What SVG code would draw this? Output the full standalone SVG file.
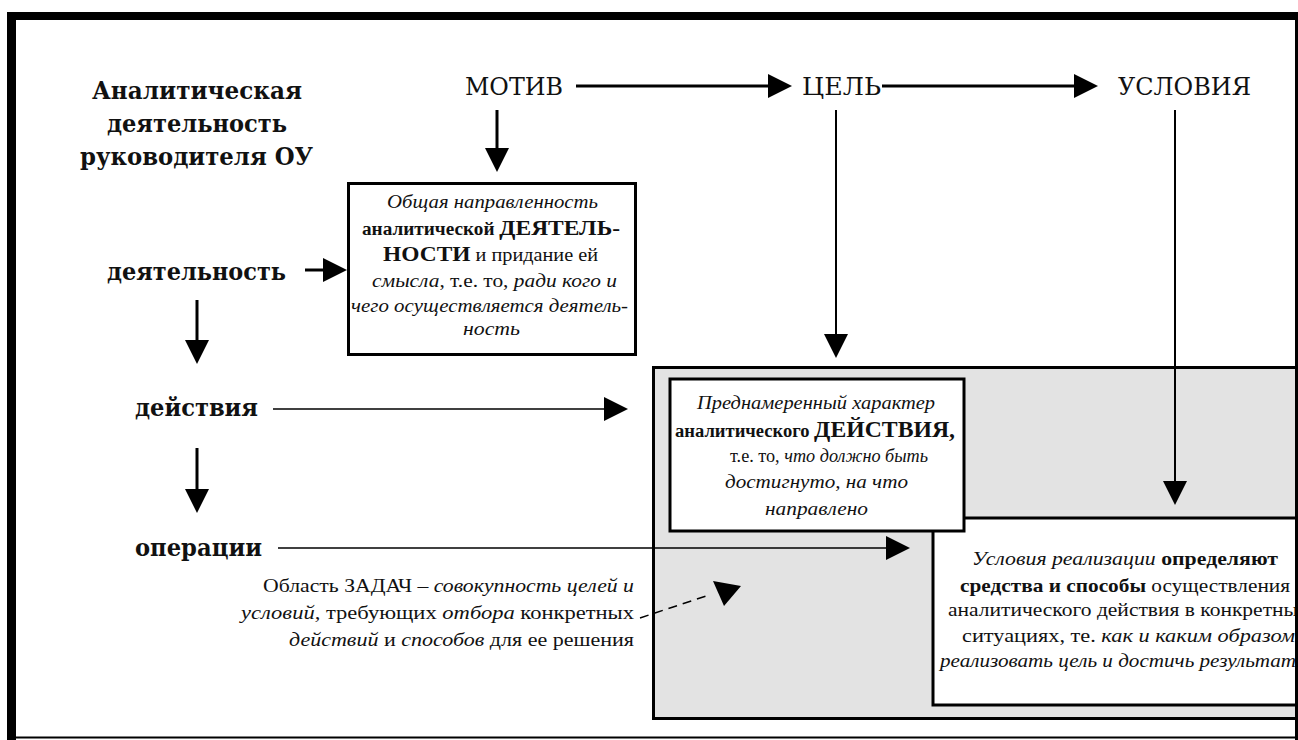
<svg xmlns="http://www.w3.org/2000/svg" width="1298" height="740" viewBox="0 0 1298 740">
<style>
.hd{font-family:"DejaVu Serif","Liberation Serif",serif;font-size:25px;fill:#111}
.hb{font-weight:bold}
.it{font-family:"Liberation Serif",serif;font-style:italic;fill:#111}
.rg{font-family:"Liberation Serif",serif;fill:#111}
.bd{font-family:"Liberation Serif",serif;font-weight:bold;fill:#111}
.box{fill:#fff;stroke:#000;stroke-width:3}
.ln{stroke:#000;fill:none}
</style>
<defs>
<marker id="ah" viewBox="0 0 24 24" refX="12" refY="12" markerWidth="24" markerHeight="24" markerUnits="userSpaceOnUse" orient="auto">
<path d="M0,0 L24,12 L0,24 Z" fill="#000"/>
</marker>
</defs>
<rect width="1298" height="740" fill="#fff"/>

<g id="title">
<text class="hd hb" x="92" y="99" textLength="210" lengthAdjust="spacingAndGlyphs">Аналитическая</text>
<text class="hd hb" x="107" y="132" textLength="180" lengthAdjust="spacingAndGlyphs">деятельность</text>
<text class="hd hb" x="80" y="165" textLength="233" lengthAdjust="spacingAndGlyphs">руководителя ОУ</text>
</g>

<g id="motiv"><text class="hd" x="465" y="95" textLength="98" lengthAdjust="spacingAndGlyphs">МОТИВ</text></g>
<g id="cel"><text class="hd" x="802" y="95" textLength="79" lengthAdjust="spacingAndGlyphs">ЦЕЛЬ</text></g>
<g id="usloviya"><text class="hd" x="1118" y="95" textLength="133" lengthAdjust="spacingAndGlyphs">УСЛОВИЯ</text></g>

<g id="deyatelnost"><text class="hd hb" x="107" y="280" textLength="179" lengthAdjust="spacingAndGlyphs">деятельность</text></g>
<g id="deystviya"><text class="hd hb" x="135" y="416" textLength="123" lengthAdjust="spacingAndGlyphs">действия</text></g>
<g id="operacii"><text class="hd hb" x="135" y="556" textLength="127" lengthAdjust="spacingAndGlyphs">операции</text></g>

<g id="area">
<rect x="653.5" y="367.5" width="700" height="351" fill="#e3e3e3" stroke="#000" stroke-width="3"/>
</g>

<g id="box-usloviya">
<rect class="box" x="933" y="518" width="420" height="187" stroke-width="2.5"/>
<text x="972" y="565" font-size="19" textLength="306" lengthAdjust="spacingAndGlyphs"><tspan class="it">Условия  реализации </tspan><tspan class="bd">определяют</tspan></text>
<text x="960" y="592" font-size="19" textLength="330" lengthAdjust="spacingAndGlyphs"><tspan class="bd">средства и способы</tspan><tspan class="rg"> осуществления</tspan></text>
<text class="rg" x="948" y="616" font-size="19" textLength="350" lengthAdjust="spacingAndGlyphs">аналитического действия в конкретны</text>
<text x="962" y="642" font-size="19" textLength="333" lengthAdjust="spacingAndGlyphs"><tspan class="rg">ситуациях, те. </tspan><tspan class="it">как и каким образом</tspan></text>
<text class="it" x="940" y="667" font-size="19" textLength="356" lengthAdjust="spacingAndGlyphs">реализовать цель и достичь результат</text>
</g>

<g id="box-cel">
<rect class="box" x="670" y="379" width="294" height="152"/>
<text class="it" x="697" y="409" font-size="19" textLength="238" lengthAdjust="spacingAndGlyphs">Преднамеренный  характер</text>
<text x="675" y="437" textLength="280" lengthAdjust="spacingAndGlyphs"><tspan class="bd" font-size="18">аналитического </tspan><tspan class="bd" font-size="23">ДЕЙСТВИЯ,</tspan></text>
<text x="730" y="462" font-size="19" textLength="198" lengthAdjust="spacingAndGlyphs"><tspan class="rg">т.е. то, </tspan><tspan class="it">что должно быть</tspan></text>
<text class="it" x="725" y="488" font-size="19" textLength="183" lengthAdjust="spacingAndGlyphs">достигнуто, на что</text>
<text class="it" x="765" y="515" font-size="19" textLength="103" lengthAdjust="spacingAndGlyphs">направлено</text>
</g>

<g id="box-motiv">
<rect class="box" x="348.5" y="183.5" width="287" height="171"/>
<text class="it" x="387" y="208" font-size="19" textLength="211" lengthAdjust="spacingAndGlyphs">Общая направленность</text>
<text x="362" y="235" textLength="258" lengthAdjust="spacingAndGlyphs"><tspan class="bd" font-size="18">аналитической </tspan><tspan class="bd" font-size="22">ДЕЯТЕЛЬ-</tspan></text>
<text x="383" y="261" textLength="215" lengthAdjust="spacingAndGlyphs"><tspan class="bd" font-size="22">НОСТИ</tspan><tspan class="rg" font-size="19"> и придание ей</tspan></text>
<text x="372" y="287" font-size="19" textLength="245" lengthAdjust="spacingAndGlyphs"><tspan class="it">смысла</tspan><tspan class="rg">, т.е.  то, </tspan><tspan class="it">ради кого и</tspan></text>
<text class="it" x="351" y="312" font-size="19" textLength="277" lengthAdjust="spacingAndGlyphs">чего осуществляется деятель-</text>
<text class="it" x="463" y="335" font-size="19" textLength="57" lengthAdjust="spacingAndGlyphs">ность</text>
</g>

<g id="note">
<text x="263" y="592" font-size="18" textLength="371" lengthAdjust="spacingAndGlyphs"><tspan class="rg">Область ЗАДАЧ – </tspan><tspan class="it">совокупность целей и</tspan></text>
<text x="241" y="619" font-size="18" textLength="393" lengthAdjust="spacingAndGlyphs"><tspan class="it">условий,</tspan><tspan class="rg">  требующих  </tspan><tspan class="it">отбора</tspan><tspan class="rg"> конкретных</tspan></text>
<text x="289" y="646" font-size="18" textLength="345" lengthAdjust="spacingAndGlyphs"><tspan class="it">действий</tspan><tspan class="rg">  и </tspan><tspan class="it">способов</tspan><tspan class="rg"> для ее решения</tspan></text>
</g>

<g id="connectors">
<line class="ln" x1="576" y1="86" x2="780" y2="86" stroke-width="3" marker-end="url(#ah)"/>
<line class="ln" x1="882" y1="86" x2="1086" y2="86" stroke-width="3" marker-end="url(#ah)"/>
<line class="ln" x1="497" y1="110" x2="497" y2="160" stroke-width="3" marker-end="url(#ah)"/>
<line class="ln" x1="836" y1="110" x2="836" y2="346" stroke-width="2" marker-end="url(#ah)"/>
<line class="ln" x1="1175" y1="110" x2="1175" y2="493" stroke-width="2" marker-end="url(#ah)"/>
<line class="ln" x1="305" y1="270" x2="335" y2="270" stroke-width="3" marker-end="url(#ah)"/>
<line class="ln" x1="197" y1="300" x2="197" y2="352" stroke-width="3" marker-end="url(#ah)"/>
<line class="ln" x1="273" y1="409" x2="616" y2="409" stroke-width="1.5" marker-end="url(#ah)"/>
<line class="ln" x1="197" y1="448" x2="197" y2="501" stroke-width="3" marker-end="url(#ah)"/>
<line class="ln" x1="278" y1="548" x2="898" y2="548" stroke-width="1.5" marker-end="url(#ah)"/>
<line class="ln" x1="640" y1="618" x2="706" y2="596" stroke-width="1.5" stroke-dasharray="9,6"/>
<polygon points="713,581 741,586 724,606" fill="#000"/>
</g>

<g id="frame">
<rect x="7" y="12" width="9" height="728" fill="#000"/>
<rect x="7" y="12" width="1291" height="8" fill="#000"/>
<rect x="1295" y="12" width="3" height="728" fill="#000"/>
<rect x="7" y="736.5" width="1291" height="2" fill="#000"/>
</g>
</svg>
